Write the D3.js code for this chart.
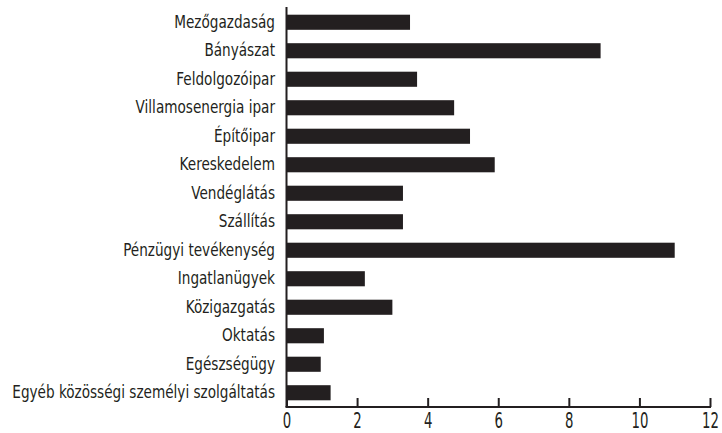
<!DOCTYPE html>
<html>
<head>
<meta charset="utf-8">
<script src="https://cdn.jsdelivr.net/npm/d3@7"></script>
<style>
  html, body { margin: 0; padding: 0; background: #fff; }
  svg { display: block; }
  text { font-family: "DejaVu Sans Condensed", "DejaVu Sans", sans-serif; fill: #231f20; }
</style>
</head>
<body>
<svg id="chart" width="722" height="433"></svg>
<script>
const categories = [
  "Mezőgazdaság",
  "Bányászat",
  "Feldolgozóipar",
  "Villamosenergia ipar",
  "Építőipar",
  "Kereskedelem",
  "Vendéglátás",
  "Szállítás",
  "Pénzügyi tevékenység",
  "Ingatlanügyek",
  "Közigazgatás",
  "Oktatás",
  "Egészségügy",
  "Egyéb közösségi személyi szolgáltatás"
];
const values = [3.5, 8.9, 3.7, 4.75, 5.2, 5.9, 3.3, 3.3, 11.0, 2.22, 3.0, 1.06, 0.97, 1.25];
const xTicks = [0, 2, 4, 6, 8, 10, 12];

const svg = d3.select("#chart");
const mLeft = 286.5, mRight = 710, mTop = 8, mBottom = 407;

const x = d3.scaleLinear().domain([0, 12]).range([mLeft, mRight]);
const y = d3.scaleBand().domain(categories).range([mTop, mBottom])
  .paddingInner(0.47).paddingOuter(0.235);

// bars
svg.append("g").selectAll("rect")
  .data(categories)
  .join("rect")
  .attr("x", x(0))
  .attr("y", d => y(d))
  .attr("width", (d, i) => x(values[i]) - x(0))
  .attr("height", y.bandwidth())
  .attr("fill", "#231f20");

// x axis
const xAxis = d3.axisBottom(x).tickValues(xTicks).tickSize(-9).tickFormat(d3.format("d"));
const gx = svg.append("g").attr("transform", `translate(0,${mBottom})`).call(xAxis);
gx.select(".domain").remove();
gx.append("line").attr("x1", mLeft - 1).attr("x2", mRight + 1).attr("y1", 0).attr("y2", 0)
  .attr("stroke", "#231f20").attr("stroke-width", 2);
gx.selectAll(".tick line").attr("stroke", "#231f20").attr("stroke-width", 2);
gx.selectAll(".tick text")
  .attr("font-size", 20.5).attr("fill", "#231f20")
  .attr("x", 0).attr("y", 0).attr("dy", null)
  .attr("transform", "translate(0,21) scale(0.72,1)");

// y axis
const yAxis = d3.axisLeft(y).tickSize(0);
const gy = svg.append("g").attr("transform", `translate(${mLeft},0)`).call(yAxis);
gy.select(".domain").remove();
gy.append("line").attr("x1", 0).attr("x2", 0).attr("y1", mTop - 1).attr("y2", mBottom)
  .attr("stroke", "#231f20").attr("stroke-width", 2);
const labels = gy.selectAll(".tick text").attr("font-size", 17).attr("fill", "#231f20").attr("x", 0);
// condense horizontally so the longest label spans like the reference
let maxW = 0;
labels.each(function() { maxW = Math.max(maxW, this.getComputedTextLength()); });
const sx = 263 / maxW;
labels.attr("transform", `translate(-11.5,0) scale(${sx},1)`);
</script>
</body>
</html>
